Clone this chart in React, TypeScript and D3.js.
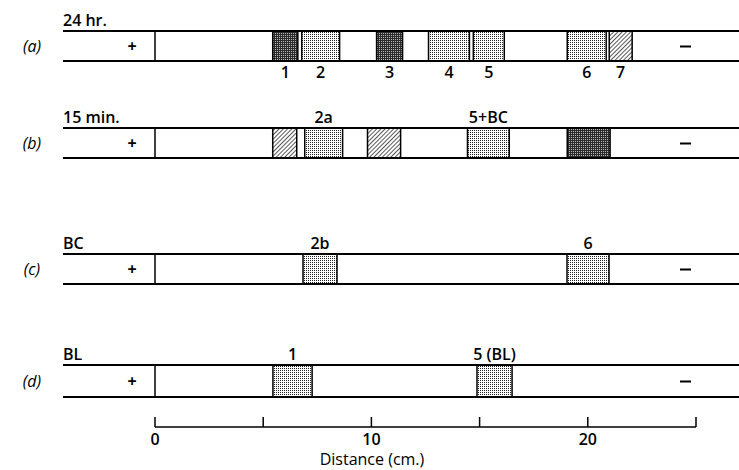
import React from 'react';
import * as d3 from 'd3';

// electrophoresis strips, distances in cm from origin
const rowIds = ['(a)', '(b)', '(c)', '(d)'];
const rowTitles = ['24 hr.', '15 min.', 'BC', 'BL'];
const labelSide = ['below', 'above', 'above', 'above'];

const bandsA = [
  { start: 5.44, end: 6.6, fill: 'dark', label: '1' },
  { start: 6.78, end: 8.53, fill: 'light', label: '2' },
  { start: 10.24, end: 11.44, fill: 'dark', label: '3' },
  { start: 12.64, end: 14.53, fill: 'light', label: '4' },
  { start: 14.71, end: 16.14, fill: 'light', label: '5' },
  { start: 19.05, end: 20.85, fill: 'light', label: '6' },
  { start: 20.99, end: 22.05, fill: 'hatch', label: '7' },
];
const bandsB = [
  { start: 5.44, end: 6.55, fill: 'hatch', label: '' },
  { start: 6.92, end: 8.67, fill: 'light', label: '2a' },
  { start: 9.82, end: 11.35, fill: 'hatch', label: '' },
  { start: 14.44, end: 16.37, fill: 'light', label: '5+BC' },
  { start: 19.05, end: 21.03, fill: 'dark', label: '' },
];
const bandsC = [
  { start: 6.84, end: 8.41, fill: 'light', label: '2b' },
  { start: 19.04, end: 20.98, fill: 'light', label: '6' },
];
const bandsD = [
  { start: 5.45, end: 7.26, fill: 'light', label: '1' },
  { start: 14.88, end: 16.5, fill: 'light', label: '5 (BL)' },
];
const allBands = [bandsA, bandsB, bandsC, bandsD];

const axisTicks = [0, 5, 10, 15, 20, 25];
const axisLabels = [0, 10, 20];

const W = 739;
const H = 470;
const rowTop = [31, 128, 254, 365];
const rowH = [30, 30, 30, 32];
const axisY = 427;
const font = '"Open Sans", "DejaVu Sans", sans-serif';

export default function App() {
  const x = d3.scaleLinear().domain([0, 25]).range([155, 696]);
  const stripStart = x.invert(63);
  const stripEnd = x.invert(745);

  return (
    <svg width={W} height={H} style={{ position: 'absolute', left: 0, top: 0 }} fontFamily={font}>
      <defs>
        <pattern id="light" width="2" height="2" patternUnits="userSpaceOnUse">
          <rect width="2" height="2" fill="#fff" />
          <rect width="1" height="1" fill="#222" />
        </pattern>
        <pattern id="dark" width="2" height="2" patternUnits="userSpaceOnUse">
          <rect width="2" height="2" fill="#2a2a2a" />
          <rect x="1" y="1" width="1" height="1" fill="#bbb" />
        </pattern>
        <pattern id="hatch" width="3" height="3" patternUnits="userSpaceOnUse" patternTransform="rotate(45)">
          <rect width="3" height="3" fill="#fff" />
          <line x1="0" y1="0" x2="0" y2="3" stroke="#111" strokeWidth="1.4" />
        </pattern>
      </defs>
      <rect width={W} height={H} fill="#fff" />
      {rowIds.map((id, i) => {
        const top = rowTop[i];
        const h = rowH[i];
        const mid = top + h / 2;
        return (
          <g key={id}>
            <text x={32} y={mid} fontSize={16} fontStyle="italic" textAnchor="middle" dominantBaseline="central">{id}</text>
            <text x={x(stripStart)} y={top - 5} fontSize={16} fontWeight={600}>{rowTitles[i]}</text>
            {allBands[i].map((b, j) => (
              <g key={j}>
                <rect x={x(b.start)} y={top} width={x(b.end) - x(b.start)} height={h}
                  fill={`url(#${b.fill})`} stroke="#000" strokeWidth={1.5} />
                {b.label && (
                  <text x={(x(b.start) + x(b.end)) / 2} y={labelSide[i] === 'below' ? top + h + 17 : top - 5}
                    fontSize={16} fontWeight={600} textAnchor="middle">{b.label}</text>
                )}
              </g>
            ))}
            <line x1={x(stripStart)} x2={x(stripEnd)} y1={top} y2={top} stroke="#000" strokeWidth={1.8} />
            <line x1={x(stripStart)} x2={x(stripEnd)} y1={top + h} y2={top + h} stroke="#000" strokeWidth={1.8} />
            <line x1={x(0)} x2={x(0)} y1={top} y2={top + h} stroke="#000" strokeWidth={1.5} />
            <text x={132} y={mid} fontSize={16} fontWeight={700} textAnchor="middle" dominantBaseline="central">+</text>
            <line x1={680} x2={691} y1={mid + 0.5} y2={mid + 0.5} stroke="#000" strokeWidth={2} />
          </g>
        );
      })}
      <g>
        <line x1={x(0)} x2={x(25)} y1={axisY} y2={axisY} stroke="#000" strokeWidth={1.5} />
        {axisTicks.map(t => (
          <line key={t} x1={x(t)} x2={x(t)} y1={axisY} y2={axisY - 10} stroke="#000" strokeWidth={1.5} />
        ))}
        {axisLabels.map(t => (
          <text key={t} x={x(t)} y={axisY + 18} fontSize={16} fontWeight={600} textAnchor="middle">{t}</text>
        ))}
        <text x={372} y={axisY + 38} fontSize={16} textAnchor="middle">Distance (cm.)</text>
      </g>
    </svg>
  );
}
